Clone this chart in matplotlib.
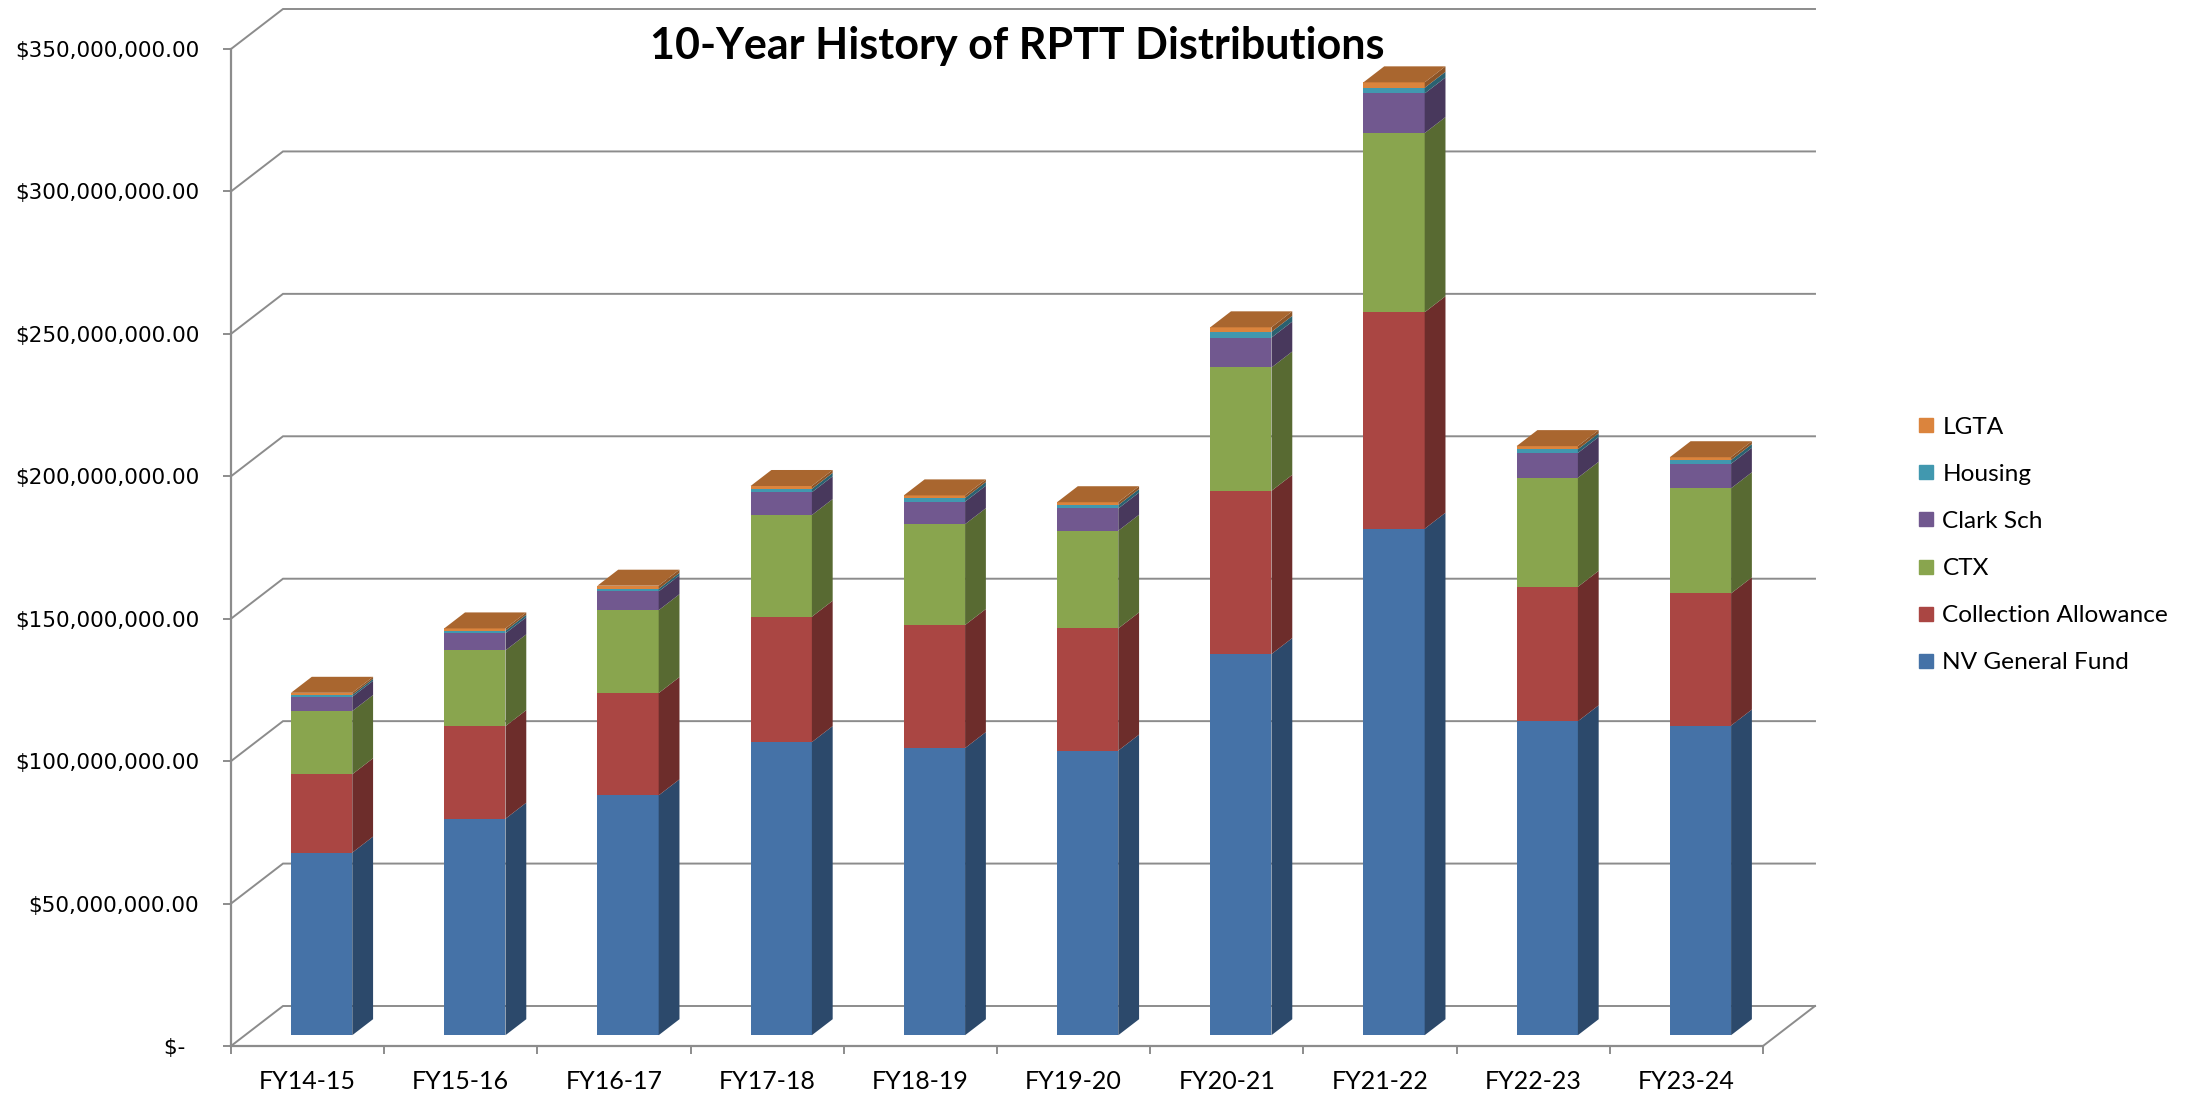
import numpy as np
import matplotlib.pyplot as plt
from matplotlib import font_manager
from matplotlib.lines import Line2D
from matplotlib.colors import to_rgb

years = ['FY14-15', 'FY15-16', 'FY16-17', 'FY17-18', 'FY18-19',
         'FY19-20', 'FY20-21', 'FY21-22', 'FY22-23', 'FY23-24']
series = ['NV General Fund', 'Collection Allowance', 'CTX', 'Clark Sch', 'Housing', 'LGTA']

# values in millions of dollars
nv_general = [64.1, 76.0, 84.2, 102.9, 100.8, 99.9, 133.8, 177.8, 110.2, 108.7]
collection = [27.5, 32.5, 35.9, 44.0, 43.2, 42.9, 57.3, 76.0, 47.2, 46.4]
ctx = [22.2, 26.6, 29.1, 35.7, 35.4, 34.3, 43.3, 62.9, 38.3, 36.9]
clark_sch = [5.0, 6.0, 6.6, 8.0, 7.9, 7.8, 10.5, 13.9, 8.7, 8.6]
housing = [0.7, 0.9, 0.9, 1.2, 1.3, 1.2, 2.0, 2.0, 1.3, 1.3]
lgta = [0.7, 0.8, 1.1, 1.0, 0.9, 1.0, 1.6, 1.9, 1.1, 1.0]

colors = ['#4572A7', '#AA4643', '#89A54E', '#71588F', '#4198AF', '#DB843D']
yticks = np.arange(0, 351e6, 50e6)

names = {f.name for f in font_manager.fontManager.ttflist}
narrow = 'Liberation Sans Narrow' if 'Liberation Sans Narrow' in names else 'Lato'

W, H = 2186, 1098
fig = plt.figure(figsize=(W / 100, H / 100), dpi=100)
left, right, bot, top = 231, 1763, 1046, 49
ax = fig.add_axes([left / W, 1 - bot / H, (right - left) / W, (bot - top) / H])
ax.set_xlim(0, len(years))
ax.set_ylim(0, 350e6)
ax.patch.set_visible(False)

grey = '#8c8c8c'
DX, DY = 52, 40  # oblique depth of the box, pixels
px_x = (right - left) / len(years)
px_y = (bot - top) / 350e6


def shift(d):
    return d * DX / px_x, d * DY / px_y


def shade(c, f):
    return tuple(v * f for v in to_rgb(c))


# walls
bx, by = shift(1)
for v in yticks:
    ax.plot([0, bx, len(years) + bx], [v, v + by, v + by], color=grey, lw=1.4,
            clip_on=False, zorder=0.5, solid_joinstyle='miter')
ax.plot([len(years), len(years) + bx], [0, by], color=grey, lw=1.4, clip_on=False, zorder=0.5)

# bars
data = np.array([nv_general, collection, ctx, clark_sch, housing, lgta]) * 1e6
cum = np.vstack([np.zeros(len(years)), np.cumsum(data, axis=0)])
bar_w = 0.4
d0, dd = 0.27, 0.4
fx, fy = shift(d0)
sx, sy = shift(dd)
xc = np.arange(len(years)) + 0.5 + fx
for k in range(len(series)):
    ax.bar(xc, data[k], bottom=cum[k] + fy, width=bar_w, color=colors[k],
           linewidth=0, zorder=2)
    for i in range(len(years)):
        xr = xc[i] + bar_w / 2
        b, t = cum[k][i] + fy, cum[k + 1][i] + fy
        ax.fill([xr, xr + sx, xr + sx, xr], [b, b + sy, t + sy, t],
                color=shade(colors[k], 0.64), lw=0, zorder=2, clip_on=False)
for i in range(len(years)):
    xl, xr = xc[i] - bar_w / 2, xc[i] + bar_w / 2
    t = cum[-1][i] + fy
    ax.fill([xl, xr, xr + sx, xl + sx], [t, t, t + sy, t + sy],
            color=shade(colors[-1], 0.77), lw=0, zorder=2, clip_on=False)

# axes
for s in ['top', 'right']:
    ax.spines[s].set_visible(False)
for s in ['left', 'bottom']:
    ax.spines[s].set_color(grey)
    ax.spines[s].set_linewidth(1.6)
ax.set_yticks(yticks)
ax.set_yticklabels(['$-  ' if v == 0 else f'${v:,.2f}' for v in yticks])
ax.tick_params(axis='y', length=5.8, width=1.4, color=grey, pad=17, labelsize=15.5)
ax.set_xticks(np.arange(len(years) + 1))
ax.set_xticklabels([])
ax.set_xticks(np.arange(len(years)) + 0.5, minor=True)
ax.set_xticklabels(years, minor=True, fontsize=18, family=narrow)
ax.tick_params(axis='x', which='major', length=5.8, width=1.4, color=grey)
ax.tick_params(axis='x', which='minor', length=0, pad=17)

fig.text(1017 / W, 1 - 46 / H, '10-Year History of RPTT Distributions',
         ha='center', va='center', fontsize=31, fontweight='bold', family=narrow)

handles = [Line2D([], [], ls='', marker='s', markersize=10.5, color=c) for c in colors]
fig.legend(handles[::-1], series[::-1], loc='center left',
           bbox_to_anchor=(1918 / W, 1 - 545 / H), frameon=False,
           prop={'family': 'Lato', 'size': 17.6}, borderpad=0, borderaxespad=0,
           handlelength=0.65, handletextpad=0.35, labelspacing=1.06)

fig.savefig('out.png', dpi=100)
